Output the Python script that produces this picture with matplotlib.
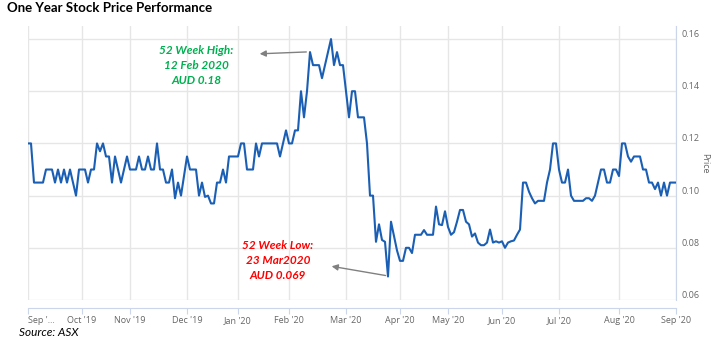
import matplotlib
matplotlib.use("Agg")
import matplotlib.pyplot as plt
import matplotlib.transforms as mtransforms
import numpy as np

# Daily closing price (AUD), one value per traded session, Sep 2019 - Sep 2020
price = [
    0.12, 0.12, 0.105, 0.105, 0.105, 0.105, 0.11, 0.11, 0.11, 0.105,    # 0-9
    0.11, 0.105, 0.11, 0.105, 0.11, 0.105, 0.10, 0.11, 0.11, 0.11,      # 10-19
    0.105, 0.11, 0.11, 0.12, 0.117, 0.12, 0.115, 0.115, 0.105, 0.115,   # 20-29
    0.11, 0.105, 0.11, 0.115, 0.11, 0.11, 0.11, 0.115, 0.11, 0.11,      # 30-39
    0.115, 0.11, 0.11, 0.12, 0.11, 0.11, 0.105, 0.105, 0.11, 0.099,     # 40-49
    0.105, 0.10, 0.1075, 0.115, 0.11, 0.11, 0.11, 0.10, 0.105, 0.0995,  # 50-59
    0.10, 0.097, 0.097, 0.105, 0.105, 0.11, 0.105, 0.115, 0.115, 0.115, # 60-69
    0.115, 0.12, 0.12, 0.11, 0.11, 0.11, 0.12, 0.115, 0.12, 0.12,       # 70-79
    0.12, 0.12, 0.12, 0.12, 0.115, 0.12, 0.125, 0.12, 0.12, 0.125,      # 80-89
    0.125, 0.14, 0.13, 0.14, 0.155, 0.15, 0.15, 0.15, 0.145, 0.15,      # 90-99
    0.155, 0.16, 0.15, 0.155, 0.15, 0.15, 0.14, 0.13, 0.14, 0.14,       # 100-109
    0.13, 0.13, 0.13, 0.12, 0.10, 0.10, 0.0823, 0.089, 0.083, 0.0823,   # 110-119
    0.069, 0.090, 0.0845, 0.079, 0.075, 0.075, 0.080, 0.080, 0.078, 0.085,  # 120-129
    0.085, 0.085, 0.0868, 0.085, 0.085, 0.085, 0.0958, 0.089, 0.0887, 0.094, # 130-139
    0.088, 0.085, 0.086, 0.090, 0.0945, 0.0945, 0.090, 0.089, 0.0843, 0.0855, # 140-149
    0.082, 0.081, 0.081, 0.082, 0.087, 0.082, 0.0825, 0.082, 0.0825, 0.080,  # 150-159
    0.082, 0.0825, 0.0828, 0.085, 0.087, 0.105, 0.105, 0.1015, 0.099, 0.097, # 160-169
    0.098, 0.098, 0.098, 0.105, 0.11, 0.12, 0.12, 0.11, 0.105, 0.105,   # 170-179
    0.11, 0.10, 0.098, 0.098, 0.098, 0.098, 0.099, 0.099, 0.098, 0.10,  # 180-189
    0.105, 0.11, 0.11, 0.105, 0.105, 0.11, 0.11, 0.1075, 0.12, 0.12,    # 190-199
    0.115, 0.113, 0.115, 0.115, 0.115, 0.11, 0.11, 0.105, 0.105, 0.1025, # 200-209
    0.105, 0.10, 0.105, 0.10, 0.105, 0.105, 0.105,                      # 210-216
]

# session index where each month starts
tick_pos = [0, 18, 34, 53, 70, 87, 106, 124, 140, 158, 177, 197, 216]
tick_labels = ["Sep '\u2026", "Oct '19", "Nov '19", "Dec '19", "Jan '20", "Feb '20",
               "Mar '20", "Apr '20", "May '20", "Jun '20", "Jul '20", "Aug '20", "Sep '20"]
y_ticks = [0.06, 0.08, 0.10, 0.12, 0.14, 0.16]

LINE = "#1a5fb4"
GRID = "#e6e6e6"
AXIS = "#ccd6eb"
LABEL = "#666666"

fig = plt.figure(figsize=(7.19, 3.46), dpi=100)
ax = fig.add_axes([28 / 719, 1 - 300 / 346, 648 / 719, 274 / 346])

# spine setup first: moving a spine resets the tick labels
for s in ["top", "left"]:
    ax.spines[s].set_visible(False)
ax.spines["right"].set_color(AXIS)
ax.spines["bottom"].set_color(AXIS)
ax.spines["bottom"].set_position(("outward", 6))

x = np.arange(len(price))
ax.plot(x, price, color=LINE, lw=1.5, zorder=3)

ax.set_xlim(0, 216)
ax.set_ylim(0.06, 0.165)

ax.yaxis.tick_right()
ax.yaxis.set_label_position("right")

ax.set_xticks(tick_pos)
ax.set_xticklabels(tick_labels, fontsize=6.5, color=LABEL, family="Open Sans")
ax.set_yticks(y_ticks)
ax.set_yticklabels(["%.2f" % v for v in y_ticks], fontsize=6.5, color=LABEL, family="Open Sans")

ax.tick_params(axis="y", length=0, pad=4)
ax.tick_params(axis="x", length=4.5, color=AXIS, pad=1)

# first month label sits inside the plot, left aligned on its tick
ax.get_xticklabels()[0].set_ha("left")

# nudge y labels up a little, like the original
offset = mtransforms.ScaledTranslation(0, 4 / 72, fig.dpi_scale_trans)
for lbl in ax.get_yticklabels():
    lbl.set_transform(lbl.get_transform() + offset)

ax.set_ylabel("Price", rotation=270, fontsize=6.5, color=LABEL, family="Open Sans", labelpad=7)

ax.grid(True, color=GRID, lw=1)
ax.set_axisbelow(True)

# annotations
ax.annotate("", xy=(76.3, 0.1543), xytext=(93.7, 0.1551),
            arrowprops=dict(arrowstyle="-|>", color="#808080", lw=1, mutation_scale=9))
ax.annotate("", xy=(100.3, 0.0731), xytext=(120.1, 0.0692),
            arrowprops=dict(arrowstyle="-|>", color="#808080", lw=1, mutation_scale=9))

ax.text(56.2, 0.1498, "52 Week High:\n12 Feb 2020\nAUD 0.18", color="#00b050",
        fontsize=8.5, fontweight="bold", fontstyle="italic", family="Lato",
        ha="center", va="center", linespacing=1.45)
ax.text(83.3, 0.0753, "52 Week Low:\n23 Mar2020\nAUD 0.069", color="#ff0000",
        fontsize=8.5, fontweight="bold", fontstyle="italic", family="Lato",
        ha="center", va="center", linespacing=1.45)

fig.text(7 / 719, 1 - 8 / 346, "One Year Stock Price Performance", fontsize=9.5,
         fontweight="bold", family="Lato", ha="left", va="center")
fig.text(19 / 719, 1 - 332 / 346, "Source: ASX", fontsize=8.5, fontstyle="italic",
         family="Lato", ha="left", va="center")

fig.savefig("out.png", dpi=100)
